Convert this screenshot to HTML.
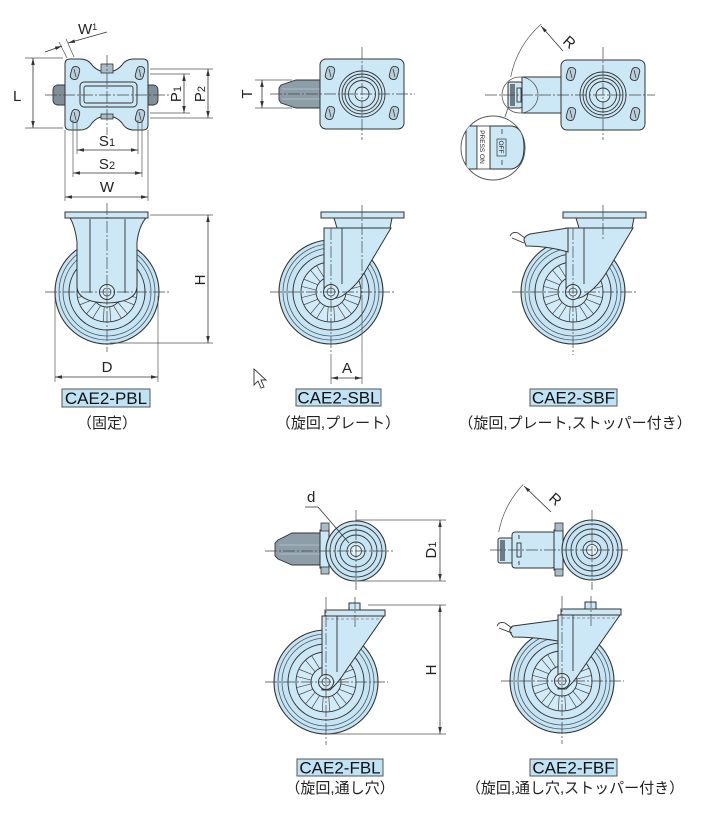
<!DOCTYPE html>
<html><head><meta charset="utf-8"><style>
html,body{margin:0;padding:0;background:#fff;}
svg{display:block;}
text{font-family:"Liberation Sans","Noto Sans CJK JP",sans-serif;fill:#222;}
.f{fill:#cce8f6;stroke:#333;stroke-width:1;}
.s{fill:none;stroke:#333;stroke-width:0.9;}
.c{fill:none;stroke:#444;stroke-width:0.7;stroke-dasharray:12 2 2 2;}
.d{fill:none;stroke:#333;stroke-width:0.8;}
.da{fill:none;stroke:#333;stroke-width:0.8;marker-start:url(#ar);marker-end:url(#ar);}
.e{fill:none;stroke:#555;stroke-width:0.7;}
.lb{fill:#bfe2f4;stroke:#555;stroke-width:1;}
.lt{font-size:17px;text-anchor:middle;fill:#111;}
.st{font-size:15px;text-anchor:middle;fill:#222;}
.dm{font-size:15px;fill:#222;}
</style></head><body>
<svg width="720" height="821" viewBox="0 0 720 821" xmlns="http://www.w3.org/2000/svg">
<defs>
<marker id="ar" viewBox="0 0 10 10" refX="10" refY="5" markerWidth="7" markerHeight="7" markerUnits="userSpaceOnUse" orient="auto-start-reverse"><path d="M0,2.5 L10,5 L0,7.5 z" fill="#333"/></marker>
<path id="sp" d="M-2.8,15 L-3.8,30 M2.8,15 L3.8,30" fill="none" stroke="#4a4a4a" stroke-width="0.7"/>
<g id="wh">
<circle r="52" fill="#c6e4f4" stroke="#333" stroke-width="1.1"/>
<circle r="48" fill="none" stroke="#4a5a66" stroke-width="0.8"/>
<circle r="44" fill="none" stroke="#4a5a66" stroke-width="0.8"/>
<circle r="38" fill="#cce8f6" stroke="#333" stroke-width="1"/>
<circle r="30" fill="#d2ebf8" stroke="#333" stroke-width="0.9"/>
<use href="#sp"/><use href="#sp" transform="rotate(36)"/><use href="#sp" transform="rotate(72)"/><use href="#sp" transform="rotate(108)"/><use href="#sp" transform="rotate(144)"/><use href="#sp" transform="rotate(180)"/><use href="#sp" transform="rotate(216)"/><use href="#sp" transform="rotate(252)"/><use href="#sp" transform="rotate(288)"/><use href="#sp" transform="rotate(324)"/>
<circle r="15" fill="#d2ebf8" stroke="#333" stroke-width="0.9"/>
</g>
<g id="ax">
<circle r="7.5" fill="#d6eef9" stroke="#333" stroke-width="1"/>
<circle r="4" fill="none" stroke="#333" stroke-width="0.7"/>
</g>
<g id="bt">
<rect x="-4" y="-6.5" width="8" height="13" rx="3.5" fill="#b9cfdb" stroke="#333" stroke-width="0.9" transform="rotate(15)"/>
<line x1="-1" y1="-4" x2="1" y2="4" stroke="#333" stroke-width="0.7"/>
</g>
<g id="tp">
<rect x="-42" y="-35" width="84" height="70" rx="6" class="f"/>
<circle r="23" class="s"/><circle r="20" class="s"/><circle r="17" class="s"/><circle r="13.5" class="s"/>
<circle r="7" fill="#d6eef9" stroke="#333" stroke-width="0.9"/>
<use href="#bt" x="-32" y="-21"/><use href="#bt" x="32" y="-21"/><use href="#bt" x="-32" y="19"/><use href="#bt" x="32" y="19"/>
</g>
<g id="tw">
<circle r="30" fill="#c6e4f4" stroke="#333" stroke-width="1.1"/>
<circle r="26" class="s"/><circle r="21" class="s"/><circle r="16" class="s"/>
<circle r="9" fill="#d2ebf8" stroke="#333" stroke-width="0.9"/>
<circle r="5.5" fill="#e4f4fc" stroke="#333" stroke-width="0.8"/>
</g>
<clipPath id="cl"><circle cx="493" cy="148" r="32"/></clipPath>
</defs>

<!-- ===== Panel 1 top (PBL) ===== -->
<path d="M65,85 L57,85 Q53,86 53,90 L53,100 Q53,104 57,105 L65,105 Z" fill="#7f8e98" stroke="#333" stroke-width="0.9"/>
<path d="M148,85 L154,85 Q158,86 158,90 L158,100 Q158,104 154,105 L148,105 Z" fill="#7f8e98" stroke="#333" stroke-width="0.9"/>
<path d="M70,59 L80,59 Q88,59 92,65 Q98,72 107,72 Q116,72 122,65 Q126,59 134,59 L143,59 Q148,59 148,64 L148,125 Q148,130 143,130 L134,130 Q126,130 122,123 Q116,116 107,116 Q98,116 92,123 Q88,130 80,130 L70,130 Q65,130 65,125 L65,64 Q65,59 70,59 Z" class="f" stroke-width="1.1"/>
<rect x="80" y="82" width="57" height="25" rx="4" class="f"/>
<rect x="84" y="86" width="49" height="17" rx="2" class="s"/>
<rect x="101" y="64" width="12" height="9" fill="#a9bdc9" stroke="#333" stroke-width="0.8"/>
<rect x="101" y="114" width="12" height="5" fill="#a9bdc9" stroke="#333" stroke-width="0.8"/>
<use href="#bt" x="75" y="73"/><use href="#bt" x="140" y="73"/><use href="#bt" x="75" y="116"/><use href="#bt" x="140" y="116"/>
<line x1="45" y1="95" x2="170" y2="95" class="c"/>
<line x1="107" y1="55" x2="107" y2="135" class="c"/>
<!-- L -->
<line x1="25" y1="58" x2="63" y2="58" class="e"/><line x1="25" y1="128" x2="63" y2="128" class="e"/>
<line x1="33" y1="58" x2="33" y2="128" class="da"/>
<text x="13" y="101" class="dm">L</text>
<!-- W1 -->
<line x1="59" y1="42" x2="67" y2="58" class="e"/><line x1="66" y1="39" x2="74" y2="57" class="e"/>
<line x1="45" y1="52" x2="62" y2="46" class="d" marker-end="url(#ar)"/>
<line x1="107" y1="32" x2="68" y2="43" class="d" marker-end="url(#ar)"/>
<text x="78" y="34" class="dm">W<tspan font-size="9" dy="-4">1</tspan></text>
<!-- P1 P2 -->
<line x1="150" y1="74" x2="190" y2="74" class="e"/><line x1="150" y1="113" x2="190" y2="113" class="e"/>
<line x1="150" y1="69" x2="213" y2="69" class="e"/><line x1="150" y1="118" x2="213" y2="118" class="e"/>
<line x1="184" y1="74" x2="184" y2="113" class="da"/>
<line x1="208" y1="69" x2="208" y2="118" class="da"/>
<text transform="translate(181,94) rotate(-90)" class="dm" text-anchor="middle">P<tspan font-size="11">1</tspan></text>
<text transform="translate(205,94) rotate(-90)" class="dm" text-anchor="middle">P<tspan font-size="11">2</tspan></text>
<!-- S1 S2 W -->
<line x1="65" y1="130" x2="65" y2="201" class="e"/><line x1="148" y1="130" x2="148" y2="201" class="e"/>
<line x1="73" y1="120" x2="73" y2="177" class="e"/><line x1="142" y1="120" x2="142" y2="177" class="e"/>
<line x1="77" y1="120" x2="77" y2="154" class="e"/><line x1="138" y1="120" x2="138" y2="154" class="e"/>
<line x1="77" y1="150" x2="138" y2="150" class="da"/>
<line x1="73" y1="173" x2="142" y2="173" class="da"/>
<line x1="65" y1="197" x2="148" y2="197" class="da"/>
<text x="107" y="146" class="dm" text-anchor="middle">S<tspan font-size="11">1</tspan></text>
<text x="107" y="169" class="dm" text-anchor="middle">S<tspan font-size="11">2</tspan></text>
<text x="107" y="192" class="dm" text-anchor="middle">W</text>

<!-- ===== Panel 1 side (PBL) ===== -->
<use href="#wh" x="107" y="292"/>
<rect x="65" y="212" width="83" height="6" class="f"/>
<path d="M70,218 L146,218 Q139,226 137,242 L137,286 Q137,302 107,303 Q77,302 77,286 L77,242 Q75,226 70,218 Z" class="f"/>
<line x1="90" y1="219" x2="90" y2="293" class="s"/><line x1="125" y1="219" x2="125" y2="293" class="s"/>
<use href="#ax" x="107" y="292"/>
<line x1="45" y1="292" x2="170" y2="292" class="c"/>
<line x1="107" y1="203" x2="107" y2="352" class="c"/>
<line x1="150" y1="215" x2="213" y2="215" class="e"/><line x1="110" y1="343" x2="213" y2="343" class="e"/>
<line x1="208" y1="215" x2="208" y2="343" class="da"/>
<text transform="translate(205,280) rotate(-90)" class="dm" text-anchor="middle">H</text>
<line x1="55" y1="296" x2="55" y2="382" class="e"/><line x1="158" y1="296" x2="158" y2="382" class="e"/>
<line x1="55" y1="377" x2="158" y2="377" class="da"/>
<text x="107" y="372" class="dm" text-anchor="middle">D</text>
<rect x="62" y="389" width="88" height="18" class="lb"/>
<text x="106" y="404" class="lt">CAE2-PBL</text>
<text x="107" y="428" class="st">（固定）</text>

<!-- ===== Panel 2 top (SBL) ===== -->
<path d="M320,80 L296,80 L281,85 L279,88 L279,100 L281,103 L296,108 L320,108 Z" fill="#8d9ea9" stroke="#333" stroke-width="0.9"/>
<line x1="282" y1="89" x2="320" y2="89" stroke="#b6c6d0" stroke-width="0.8"/><line x1="282" y1="99" x2="320" y2="99" stroke="#b6c6d0" stroke-width="0.8"/>
<use href="#tp" x="362" y="94"/>
<line x1="270" y1="94" x2="415" y2="94" class="c"/>
<line x1="362" y1="47" x2="362" y2="140" class="c"/>
<line x1="255" y1="80" x2="292" y2="80" class="e"/><line x1="255" y1="108" x2="292" y2="108" class="e"/>
<line x1="262" y1="80" x2="262" y2="108" class="da"/>
<text transform="translate(252,94) rotate(-90)" class="dm" text-anchor="middle">T</text>

<!-- ===== Panel 2 side (SBL) ===== -->
<g id="sw">
<use href="#wh" x="331" y="292"/>
<rect x="321" y="212" width="83" height="6" class="f"/>
<path d="M334,218 L392,218 L390,228 L337,228 Z" class="f"/>
<path d="M324,228 L391,228 L366,270 Q356,287 342,296 Q333,301 324,296 Z" class="f"/>
<line x1="342" y1="228" x2="342" y2="284" class="s"/>
<use href="#ax" x="331" y="292"/>
<line x1="270" y1="292" x2="395" y2="292" class="c"/>
<line x1="331" y1="228" x2="331" y2="355" class="c"/>
</g>
<line x1="362" y1="205" x2="362" y2="300" class="c"/>
<line x1="362" y1="300" x2="362" y2="384" class="e"/>
<line x1="331" y1="355" x2="331" y2="384" class="e"/>
<line x1="331" y1="378" x2="362" y2="378" class="da"/>
<text x="347" y="373" class="dm" text-anchor="middle">A</text>
<rect x="296" y="389" width="85" height="17" class="lb"/>
<text x="338.5" y="403.5" class="lt">CAE2-SBL</text>
<text x="338" y="428" class="st">（旋回,プレート）</text>
<!-- cursor -->
<path d="M254,369 L254,385 L258,381 L261,388 L264,387 L261,380 L266,380 Z" fill="#fff" stroke="#333" stroke-width="0.9"/>

<!-- ===== Panel 3 top (SBF) ===== -->
<path d="M562,77 L522,77 L522,113 L562,113 Z" class="f"/>
<rect x="508" y="82" width="14" height="26" rx="2" class="f"/>
<rect x="510" y="84" width="5" height="22" fill="#6c7b86"/>
<rect x="517" y="88" width="4" height="14" class="s"/>
<use href="#tp" x="603" y="95"/>
<line x1="485" y1="95" x2="655" y2="95" class="c"/>
<line x1="603" y1="47" x2="603" y2="140" class="c"/>
<circle cx="520" cy="95" r="18" fill="none" stroke="#555" stroke-width="0.8"/>
<line x1="508" y1="108" x2="505" y2="117" stroke="#555" stroke-width="0.8"/>
<path d="M510.7,77.1 A94,94 0 0 1 541.3,24.0" class="e"/>
<line x1="541" y1="26" x2="563" y2="51" class="d" marker-start="url(#ar)"/>
<text transform="translate(566,46) rotate(42)" class="dm" text-anchor="middle">R</text>
<circle cx="493" cy="148" r="32" fill="#fff" stroke="#555" stroke-width="0.9"/>
<g clip-path="url(#cl)">
<rect x="466" y="126" width="11" height="43" class="f"/>
<rect x="477" y="126" width="13" height="43" fill="#fff" stroke="#333" stroke-width="0.8"/>
<text transform="translate(480,147) rotate(90)" font-size="6.5" text-anchor="middle" fill="#222">PRESS ON</text>
<path d="M490,126 L512,126 Q524,128 524,147 Q524,166 512,169 L490,169 Z" class="f"/>
<rect x="497" y="139" width="9" height="17" fill="none" stroke="#333" stroke-width="0.7"/>
<text transform="translate(499,147) rotate(90)" font-size="6.5" text-anchor="middle" fill="#222">OFF</text>
<line x1="502" y1="129" x2="502" y2="134" stroke="#333" stroke-width="0.8"/>
<line x1="502" y1="160" x2="502" y2="165" stroke="#333" stroke-width="0.8"/>
</g>

<!-- ===== Panel 3 side (SBF) ===== -->
<use href="#sw" x="242" y="0"/>
<path d="M568,228 L530,234 Q524,236 524,240 L526,246 Q548,246 568,252 Z" class="f"/>
<path d="M510,236 Q512,231 518,233 L525,238 M512,238 L524,243" class="s"/>
<line x1="603" y1="205" x2="603" y2="240" class="c"/>
<rect x="530" y="389" width="87" height="17" class="lb"/>
<text x="573.5" y="403.5" class="lt">CAE2-SBF</text>
<text x="575" y="428" class="st">（旋回,プレート,ストッパー付き）</text>

<!-- ===== Panel 4 top (FBL) ===== -->
<path d="M321,533 L292,533 L278,540 L275,543 L275,556 L278,559 L292,565 L321,565 Z" fill="#8d9ea9" stroke="#333" stroke-width="0.9"/>
<line x1="279" y1="545" x2="320" y2="545" stroke="#b6c6d0" stroke-width="0.8"/><line x1="279" y1="554" x2="320" y2="554" stroke="#b6c6d0" stroke-width="0.8"/>
<rect x="320" y="530" width="9" height="38" class="f"/>
<rect x="321" y="523" width="8" height="8" fill="#a9bdc9" stroke="#333" stroke-width="0.8"/>
<rect x="321" y="567" width="8" height="7" fill="#a9bdc9" stroke="#333" stroke-width="0.8"/>
<use href="#tw" x="356" y="551"/>
<line x1="265" y1="551" x2="393" y2="551" class="c"/>
<line x1="356" y1="510" x2="356" y2="590" class="c"/>
<line x1="305" y1="507" x2="318" y2="507" class="d"/><line x1="318" y1="507" x2="349" y2="543" class="d"/>
<text x="307" y="502" class="dm">d</text>
<line x1="356" y1="520" x2="446" y2="520" class="e"/><line x1="356" y1="581" x2="446" y2="581" class="e"/>
<line x1="440" y1="520" x2="440" y2="581" class="da"/>
<text transform="translate(436,550) rotate(-90)" class="dm" text-anchor="middle">D<tspan font-size="11">1</tspan></text>

<!-- ===== Panel 4 side (FBL) ===== -->
<g id="fw">
<use href="#wh" x="326" y="682"/>
<rect x="325" y="610" width="60" height="6" class="f"/>
<rect x="349" y="603" width="11" height="7" class="f"/>
<path d="M322,616 L384,616 L345,672 Q338,683 330,690 L322,690 Z" class="f"/>
<line x1="337" y1="616" x2="337" y2="672" class="s"/>
<line x1="326" y1="619" x2="382" y2="619" stroke="#444" stroke-width="0.6" stroke-dasharray="3 2"/>
<use href="#ax" x="326" y="682"/>
<line x1="265" y1="682" x2="388" y2="682" class="c"/>
<line x1="326" y1="597" x2="326" y2="745" class="c"/>
<line x1="355" y1="597" x2="355" y2="627" class="c"/>
</g>
<line x1="368" y1="605" x2="446" y2="605" class="e"/><line x1="326" y1="734" x2="446" y2="734" class="e"/>
<line x1="440" y1="605" x2="440" y2="734" class="da"/>
<text transform="translate(436,670) rotate(-90)" class="dm" text-anchor="middle">H</text>
<rect x="297" y="759" width="86" height="17" class="lb"/>
<text x="340" y="773.5" class="lt">CAE2-FBL</text>
<text x="340" y="793" class="st">（旋回,通し穴）</text>

<!-- ===== Panel 5 top (FBF) ===== -->
<rect x="498" y="538" width="15" height="25" rx="2" class="f"/>
<rect x="500" y="540" width="5" height="21" fill="#6c7b86"/>
<rect x="512" y="532" width="43" height="36" rx="3" class="f"/>
<rect x="517" y="543" width="4" height="14" class="s"/>
<line x1="519" y1="535" x2="519" y2="539" class="s"/><line x1="519" y1="561" x2="519" y2="565" class="s"/>
<rect x="554" y="530" width="9" height="40" class="f"/>
<rect x="555" y="523" width="8" height="8" fill="#a9bdc9" stroke="#333" stroke-width="0.8"/>
<rect x="555" y="569" width="8" height="7" fill="#a9bdc9" stroke="#333" stroke-width="0.8"/>
<use href="#tw" x="592" y="550"/>
<line x1="490" y1="550" x2="630" y2="550" class="c"/>
<line x1="592" y1="510" x2="592" y2="590" class="c"/>
<path d="M498.7,532.2 A95,95 0 0 1 523.3,484.4" class="e"/>
<line x1="524" y1="486" x2="551" y2="512" class="d" marker-start="url(#ar)"/>
<text transform="translate(552,503) rotate(42)" class="dm" text-anchor="middle">R</text>

<!-- ===== Panel 5 side (FBF) ===== -->
<use href="#fw" x="236" y="-1"/>
<path d="M558,620 L513,626 Q509,628 510,632 L513,637 Q535,637 558,641 Z" class="f"/>
<path d="M497,626 Q499,621 505,623 L512,628 M499,628 L512,633" class="s"/>
<rect x="530" y="759" width="87" height="17" class="lb"/>
<text x="573.5" y="773.5" class="lt">CAE2-FBF</text>
<text x="575" y="793" class="st">（旋回,通し穴,ストッパー付き）</text>
</svg>
</body></html>
